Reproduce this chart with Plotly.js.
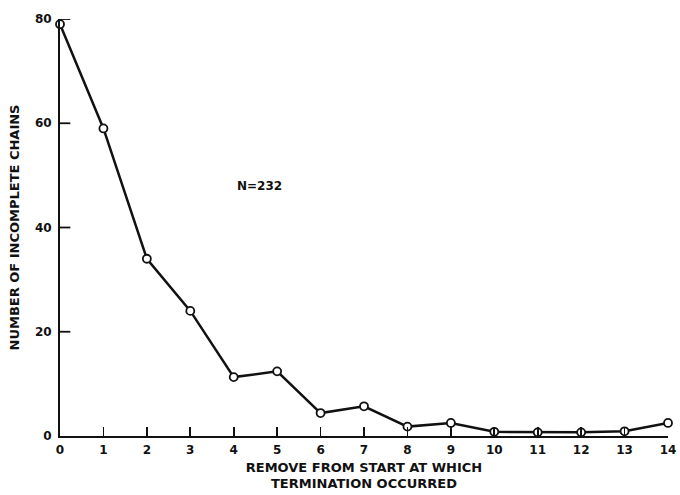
<!DOCTYPE html>
<html>
<head>
<meta charset="utf-8">
<script src="https://cdn.plot.ly/plotly-3.0.1.min.js"></script>
<style>html,body{margin:0;padding:0;background:#fff;}#chart{width:680px;height:495px;}</style>
</head>
<body>
<div id="chart"></div>
<script>
var removes = [0,1,2,3,4,5,6,7,8,9,10,11,12,13,14];
var incompleteChains = [79,59,34,24,11.3,12.4,4.4,5.7,1.8,2.5,0.8,0.7,0.7,0.9,2.5];
var xTickLabels = ["0","1","2","3","4","5","6","7","8","9","10","11","12","13","14"];
var yTickValues = [0,20,40,60,80];
var annotationText = "N=232";

var fontFam = "'DejaVu Sans', sans-serif";

var trace = {
  x: removes,
  y: incompleteChains,
  mode: "lines+markers",
  type: "scatter",
  line: {color: "#111", width: 2.5},
  marker: {symbol: "circle", size: 8, color: "#fff", line: {width: 1.8, color: "#111"}},
  cliponaxis: false,
  hoverinfo: "skip"
};

// inward tick marks on the y axis, one per tick value
var yTickShapes = yTickValues.filter(function (v) { return v > 0; }).map(function (v) {
  return {
    type: "line", xref: "paper", yref: "y",
    x0: 0, x1: 0.017, y0: v, y1: v,
    line: {color: "#111", width: 1.8},
    layer: "above"
  };
});

var layout = {
  width: 680, height: 495,
  margin: {l: 60, r: 12, t: 19, b: 59},
  paper_bgcolor: "#fff", plot_bgcolor: "#fff",
  showlegend: false,
  font: {family: fontFam, color: "#111", size: 11},
  xaxis: {
    range: [0, 14],
    tickvals: removes, ticktext: xTickLabels,
    ticks: "inside", ticklen: 9, tickwidth: 1.6, tickcolor: "#111",
    showline: true, linecolor: "#111", linewidth: 2,
    showgrid: false, zeroline: false,
    ticklabelstandoff: 2,
    tickfont: {family: fontFam, size: 12, color: "#111", weight: "bold"},
    title: {text: "REMOVE FROM START AT WHICH<br>TERMINATION OCCURRED", font: {family: fontFam, size: 13, color: "#111", weight: "bold"}, standoff: 6}
  },
  yaxis: {
    range: [0, 80],
    tickmode: "array",
    tickvals: yTickValues,
    ticks: "",
    showline: true, linecolor: "#111", linewidth: 2,
    showgrid: false, zeroline: false,
    ticklabelstandoff: 4,
    tickfont: {family: fontFam, size: 12, color: "#111", weight: "bold"},
    title: {text: "NUMBER OF INCOMPLETE CHAINS", font: {family: fontFam, size: 13, color: "#111", weight: "bold"}, standoff: 12}
  },
  shapes: yTickShapes,
  annotations: [{
    x: 4.6, y: 48, xref: "x", yref: "y",
    text: annotationText, showarrow: false,
    font: {family: fontFam, size: 12, color: "#111", weight: "bold"}
  }]
};

Plotly.newPlot("chart", [trace], layout, {displayModeBar: false, staticPlot: true});
</script>
</body>
</html>
